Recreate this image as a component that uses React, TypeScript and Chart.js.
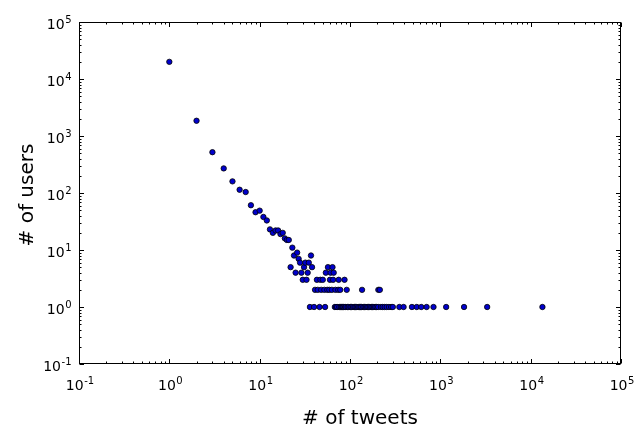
import React, { useEffect, useRef } from "react";
import { Chart, registerables } from "chart.js";

Chart.register(...registerables);

// number of tweets per user (x) and number of users with that count (y)
const tweetCounts = [
  1, 2, 3, 4, 5, 6, 7, 8, 9, 10, 11, 12, 13, 14, 15, 16, 17, 18, 19, 20, 21,
  22, 23, 24, 25, 26, 27, 28, 29, 30, 31, 32, 33, 34, 35, 36, 37, 38, 40, 41,
  43, 44, 46, 47, 48, 50, 52, 53, 54, 56, 57, 59, 60, 61, 63, 64, 65, 66, 68,
  69, 70, 72, 74, 75, 76, 78, 79, 81, 83, 85, 87, 88, 90, 92, 94, 97, 101, 104,
  108, 112, 115, 119, 123, 127, 131, 134, 136, 140, 145, 150, 155, 160, 166,
  172, 178, 184, 190, 197, 205, 206, 214, 220, 230, 242, 255, 270, 285, 298,
  352, 392, 485, 548, 615, 705, 840, 1160, 1830, 3300, 13500,
];
const userCounts = [
  20000, 1850, 520, 270, 160, 114, 104, 61, 46, 49, 38, 33, 23, 20, 22, 22, 19,
  20, 16, 15, 15, 5, 11, 8, 4, 9, 7, 6, 4, 3, 5, 6, 3, 4, 6, 1, 8, 5, 1, 2, 3,
  2, 1, 3, 2, 3, 2, 1, 4, 2, 5, 2, 3, 4, 2, 5, 3, 4, 1, 2, 1, 1, 2, 3, 1, 2, 1,
  1, 1, 1, 3, 1, 1, 2, 1, 1, 1, 1, 1, 1, 1, 1, 1, 1, 1, 1, 2, 1, 1, 1, 1, 1, 1,
  1, 1, 1, 1, 1, 1, 2, 2, 1, 1, 1, 1, 1, 1, 1, 1, 1, 1, 1, 1, 1, 1, 1, 1, 1, 1,
];

// decade exponents used for tick labels
const xTickExponents = [-1, 0, 1, 2, 3, 4, 5];
const yTickExponents = [-1, 0, 1, 2, 3, 4, 5];
const minorMultipliers = [2, 3, 4, 5, 6, 7, 8, 9];

const xTitle = "# of tweets";
const yTitle = "# of users";

const FONT = "'DejaVu Sans', sans-serif";

const framePlugin = {
  id: "mplFrame",
  afterDraw(chart: any) {
    const { ctx, chartArea } = chart;
    const xs = chart.scales.x;
    const ys = chart.scales.y;
    const L = Math.round(chartArea.left) + 0.5;
    const R = Math.round(chartArea.right) - 0.5;
    const T = Math.round(chartArea.top) + 0.5;
    const B = Math.round(chartArea.bottom) - 0.5;
    ctx.save();
    ctx.strokeStyle = "#000";
    ctx.lineWidth = 1;
    ctx.strokeRect(L, T, R - L, B - T);

    const major = 4.5;
    const minor = 2;
    ctx.beginPath();
    for (const e of xTickExponents) {
      const px = Math.round(xs.getPixelForValue(Math.pow(10, e))) + 0.5;
      ctx.moveTo(px, B);
      ctx.lineTo(px, B - major);
      ctx.moveTo(px, T);
      ctx.lineTo(px, T + major);
      if (e < xTickExponents[xTickExponents.length - 1]) {
        for (const m of minorMultipliers) {
          const mx = Math.round(xs.getPixelForValue(m * Math.pow(10, e))) + 0.5;
          ctx.moveTo(mx, B);
          ctx.lineTo(mx, B - minor);
          ctx.moveTo(mx, T);
          ctx.lineTo(mx, T + minor);
        }
      }
    }
    for (const e of yTickExponents) {
      const py = Math.round(ys.getPixelForValue(Math.pow(10, e))) + 0.5;
      ctx.moveTo(L, py);
      ctx.lineTo(L + major, py);
      ctx.moveTo(R, py);
      ctx.lineTo(R - major, py);
      if (e < yTickExponents[yTickExponents.length - 1]) {
        for (const m of minorMultipliers) {
          const my = Math.round(ys.getPixelForValue(m * Math.pow(10, e))) + 0.5;
          ctx.moveTo(L, my);
          ctx.lineTo(L + minor, my);
          ctx.moveTo(R, my);
          ctx.lineTo(R - minor, my);
        }
      }
    }
    ctx.stroke();

    // tick labels: 10 with superscript exponent
    const baseFont = `14px ${FONT}`;
    const supFont = `10px ${FONT}`;
    ctx.fillStyle = "#000";
    ctx.textBaseline = "alphabetic";
    ctx.textAlign = "left";
    const measure = (e: number) => {
      ctx.font = baseFont;
      const w1 = ctx.measureText("10").width;
      ctx.font = supFont;
      const w2 = ctx.measureText(e < 0 ? "-" + Math.abs(e) : String(e)).width;
      return { w1, w2 };
    };
    const drawLabel = (e: number, x: number, baseline: number) => {
      const { w1 } = measure(e);
      ctx.font = baseFont;
      ctx.fillText("10", x, baseline);
      ctx.font = supFont;
      ctx.fillText(e < 0 ? "-" + Math.abs(e) : String(e), x + w1 + 0.5, baseline - 6.5);
    };
    for (const e of xTickExponents) {
      const px = xs.getPixelForValue(Math.pow(10, e));
      const { w1, w2 } = measure(e);
      drawLabel(e, px - (w1 + w2 + 0.5) / 2 + 1, chartArea.bottom + 26);
    }
    for (const e of yTickExponents) {
      const py = ys.getPixelForValue(Math.pow(10, e));
      const { w1, w2 } = measure(e);
      drawLabel(e, chartArea.left - 7.5 - (w1 + w2 + 0.5), py + 7);
    }

    // axis titles
    ctx.font = `20px ${FONT}`;
    ctx.textAlign = "center";
    ctx.fillText(xTitle, 360, 424);
    ctx.save();
    ctx.translate(33, 195);
    ctx.rotate(-Math.PI / 2);
    ctx.fillText(yTitle, 0, 0);
    ctx.restore();
    ctx.restore();
  },
};

export default function App() {
  const canvasRef = useRef<HTMLCanvasElement | null>(null);

  useEffect(() => {
    if (!canvasRef.current) return;
    const points = tweetCounts.map((x, i) => ({ x, y: userCounts[i] }));
    const chart = new Chart(canvasRef.current, {
      type: "scatter",
      data: {
        datasets: [
          {
            data: points,
            backgroundColor: "#0000cc",
            borderColor: "#000000",
            borderWidth: 0.8,
            pointRadius: 2.7,
            pointHoverRadius: 2.7,
          },
        ],
      },
      options: {
        animation: false,
        responsive: false,
        devicePixelRatio: 1,
        layout: { padding: { left: 0, right: 16, top: 22, bottom: 0 } },
        plugins: {
          legend: { display: false },
          tooltip: { enabled: false },
        },
        scales: {
          x: {
            type: "logarithmic",
            min: 0.1,
            max: 100000,
            position: "bottom",
            ticks: { display: false },
            grid: { display: false },
            border: { display: false },
            afterFit: (s: any) => {
              s.height = 63;
            },
          },
          y: {
            type: "logarithmic",
            min: 0.1,
            max: 100000,
            position: "left",
            ticks: { display: false },
            grid: { display: false },
            border: { display: false },
            afterFit: (s: any) => {
              s.width = 79;
            },
          },
        },
      },
      plugins: [framePlugin],
    });
    return () => chart.destroy();
  }, []);

  return (
    <div
      style={{
        position: "fixed",
        left: 0,
        top: 0,
        width: 637,
        height: 427,
        background: "#fff",
      }}
    >
      <canvas ref={canvasRef} width={637} height={427} />
    </div>
  );
}
